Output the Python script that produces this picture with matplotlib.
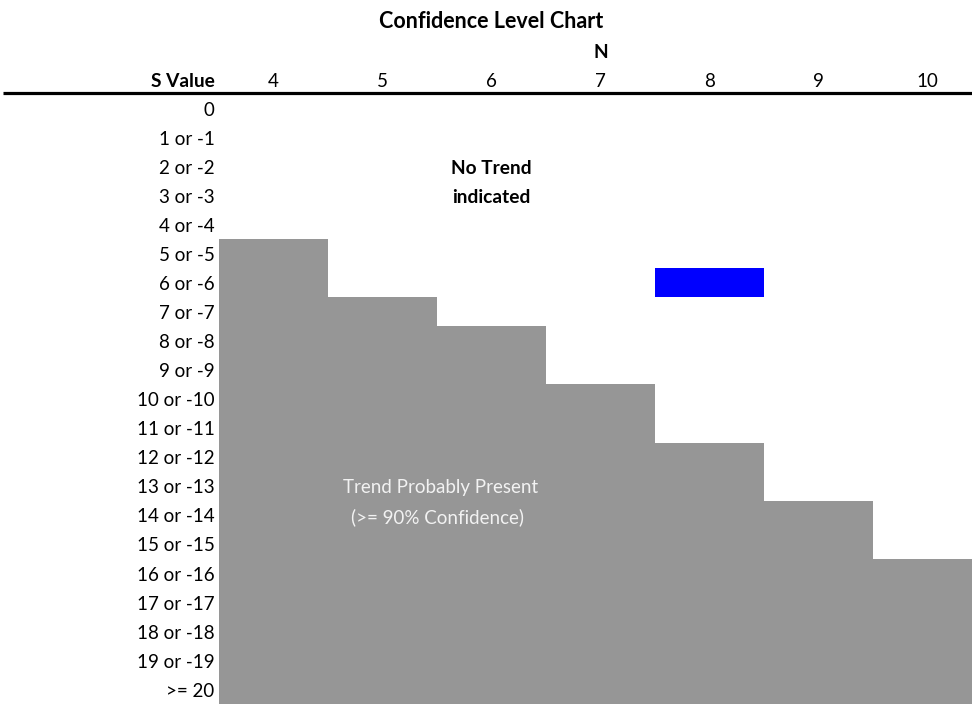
import matplotlib
matplotlib.use("Agg")
import matplotlib.pyplot as plt

plt.rcParams['font.family'] = ['Lato', 'DejaVu Sans']

n_values = [4, 5, 6, 7, 8, 9, 10]
trend_start_row = [5, 7, 8, 10, 12, 14, 16]   # first S row with >=90% confidence
s_labels = ["0"] + [f"{i} or -{i}" for i in range(1, 20)] + [">= 20"]
highlight_n = 8
highlight_s = 6

n_rows = len(s_labels)
gray = "#969696"
blue = "#0000ff"

fig = plt.figure(figsize=(9.72, 7.04), dpi=100)
ax = fig.add_axes([0, 0, 1, 1])
ax.set_xlim(-2.009, 6.908)
ax.set_ylim(21.0, -3.236)
ax.axis("off")

cols = list(range(len(n_values)))
heights = [n_rows - s for s in trend_start_row]
ax.bar(cols, heights, bottom=trend_start_row, width=1.0, align="edge",
       color=gray, linewidth=0)
hi = n_values.index(highlight_n)
ax.bar([hi], [1], bottom=[highlight_s], width=1.0, align="edge",
       color=blue, linewidth=0)

fs = 13.5
fsb = 13.8
dy = 0.06
# header line
ax.plot([-1.98, 6.908], [-0.04, -0.04], color="black", lw=2.3, solid_capstyle="butt")

ax.text(2.5, -2.48, "Confidence Level Chart", ha="center", va="center",
        fontsize=15.5, fontweight="bold")
ax.text(3.5, -1.42, "N", ha="center", va="center", fontsize=fsb, fontweight="bold")
ax.text(-0.04, -0.42, "S Value", ha="right", va="center", fontsize=fsb, fontweight="bold")
for i, n in enumerate(n_values):
    ax.text(i + 0.5, -0.42, str(n), ha="center", va="center", fontsize=fs)

for r, lab in enumerate(s_labels):
    ax.text(-0.04, r + 0.5 + dy, lab, ha="right", va="center", fontsize=fs)

ax.text(2.5, 2.5 + dy, "No Trend", ha="center", va="center", fontsize=fsb, fontweight="bold")
ax.text(2.5, 3.5 + dy, "indicated", ha="center", va="center", fontsize=fsb, fontweight="bold")
ax.text(2.03, 13.5 + dy, "Trend Probably Present", ha="center", va="center",
        fontsize=fs, color="#f2f2f2")
ax.text(2.0, 14.5 + dy, "(>= 90% Confidence)", ha="center", va="center",
        fontsize=fs, color="#f2f2f2")

fig.savefig("out.png", dpi=100)
